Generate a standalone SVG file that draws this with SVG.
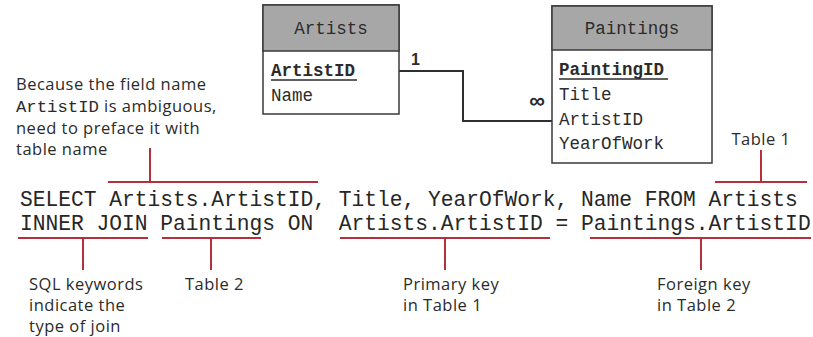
<svg xmlns="http://www.w3.org/2000/svg" width="813" height="337" viewBox="0 0 813 337">
  <style>
    .box { fill: #ffffff; stroke: #3a3a3a; stroke-width: 1.5; }
    .head { fill: #a7a7a7; stroke: #3a3a3a; stroke-width: 1.5; }
    .mono { font-family: "Liberation Mono", "DejaVu Sans Mono", monospace; fill: #2b2b2b; }
    .tname { font-size: 17.5px; text-anchor: middle; }
    .field { font-size: 17.5px; }
    .key { font-weight: bold; }
    .sql { font-size: 21.25px; fill: #262626; }
    .note { font-family: "Open Sans", "Noto Sans", sans-serif; font-size: 16.5px; letter-spacing: 0.5px; fill: #2b2b2b; }
    .rel { fill: none; stroke: #2f2f2f; stroke-width: 2; }
    .card { font-family: "Liberation Sans", "DejaVu Sans", sans-serif; font-weight: bold; fill: #2b2b2b; }
    .callout { fill: none; stroke: #b3303c; stroke-width: 2; }
    .uline { stroke: #2b2b2b; stroke-width: 1.5; }
  </style>

  <!-- relationship line between the two tables -->
  <g id="connectors">
    <polyline class="rel" points="399,71 463,71 463,121 552,121"/>
    <text class="card" x="411" y="65" font-size="16">1</text>
    <text class="card" x="537" y="108" font-size="22" text-anchor="middle">∞</text>
  </g>

  <!-- Artists table -->
  <g id="artists">
    <rect class="box" x="263" y="5" width="136" height="109"/>
    <rect class="head" x="263" y="5" width="136" height="46"/>
    <text class="mono tname" x="331" y="34">Artists</text>
    <text class="mono field key" x="271" y="76">ArtistID</text>
    <line class="uline" x1="271" y1="80" x2="357" y2="80"/>
    <text class="mono field" x="271" y="101">Name</text>
  </g>

  <!-- Paintings table -->
  <g id="paintings">
    <rect class="box" x="552" y="6" width="160" height="157"/>
    <rect class="head" x="552" y="6" width="160" height="44"/>
    <text class="mono tname" x="632" y="34">Paintings</text>
    <text class="mono field key" x="559" y="75">PaintingID</text>
    <line class="uline" x1="559" y1="79" x2="668" y2="79"/>
    <text class="mono field" x="559" y="100">Title</text>
    <text class="mono field" x="559" y="125">ArtistID</text>
    <text class="mono field" x="559" y="149">YearOfWork</text>
  </g>

  <!-- the SQL statement -->
  <g id="query">
    <text class="mono sql" x="20" y="206" xml:space="preserve">SELECT Artists.ArtistID, Title, YearOfWork, Name FROM Artists</text>
    <text class="mono sql" x="20" y="230" xml:space="preserve">INNER JOIN Paintings ON  Artists.ArtistID = Paintings.ArtistID</text>
  </g>

  <!-- callout: qualified field name -->
  <g id="note-ambiguous">
    <text class="note" x="16" y="90">Because the field name</text>
    <text class="note" y="112"><tspan class="mono" x="16" font-size="17.3" letter-spacing="0">ArtistID</tspan><tspan x="104">is ambiguous,</tspan></text>
    <text class="note" x="16" y="134">need to preface it with</text>
    <text class="note" x="16" y="155">table name</text>
    <path class="callout" d="M150,148 V182 M108,182 H318"/>
  </g>

  <!-- callout: first table -->
  <g id="note-table1">
    <text class="note" x="761" y="145" text-anchor="middle">Table 1</text>
    <path class="callout" d="M761,150 V182 M715,182 H807"/>
  </g>

  <!-- callout: join keywords -->
  <g id="note-join">
    <path class="callout" d="M18,238 H148 M83,238 V270"/>
    <text class="note" x="29" y="290">SQL keywords</text>
    <text class="note" x="29" y="311">indicate the</text>
    <text class="note" x="29" y="332">type of join</text>
  </g>

  <!-- callout: second table -->
  <g id="note-table2">
    <path class="callout" d="M162,238 H261 M211,238 V270"/>
    <text class="note" x="185" y="290">Table 2</text>
  </g>

  <!-- callout: primary key -->
  <g id="note-primary">
    <path class="callout" d="M340,238 H550 M445,238 V270"/>
    <text class="note" x="403" y="290">Primary key</text>
    <text class="note" x="403" y="311">in Table 1</text>
  </g>

  <!-- callout: foreign key -->
  <g id="note-foreign">
    <path class="callout" d="M590,238 H811 M701,238 V270"/>
    <text class="note" x="657" y="290">Foreign key</text>
    <text class="note" x="657" y="311">in Table 2</text>
  </g>
</svg>
